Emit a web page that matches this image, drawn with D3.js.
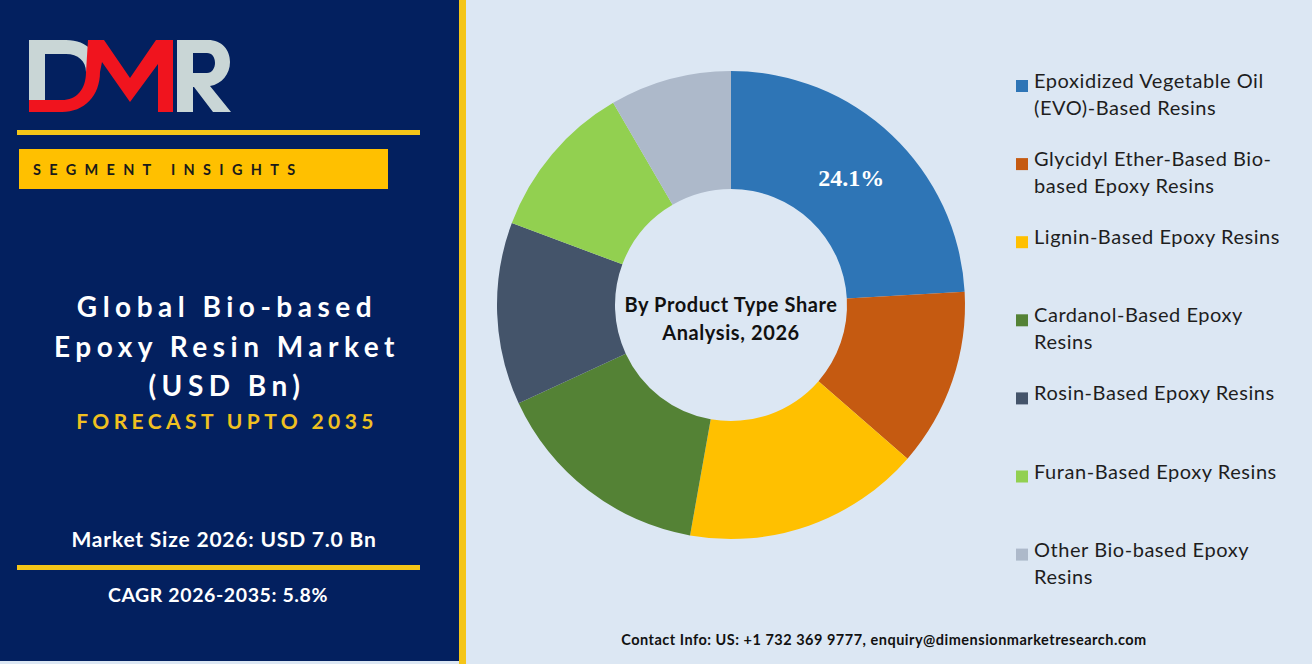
<!DOCTYPE html>
<html>
<head>
<meta charset="utf-8">
<script src="https://cdn.jsdelivr.net/npm/d3@7"></script>
<style>
  html, body { margin: 0; padding: 0; background: #dce7f3; }
  svg { display: block; }
</style>
</head>
<body>
<div id="chart"></div>
<script>
(function(){

    // chart data
    var categories = [
        "Epoxidized Vegetable Oil\n(EVO)-Based Resins",
        "Glycidyl Ether-Based Bio-\nbased Epoxy Resins",
        "Lignin-Based Epoxy Resins",
        "Cardanol-Based Epoxy\nResins",
        "Rosin-Based Epoxy Resins",
        "Furan-Based Epoxy Resins",
        "Other Bio-based Epoxy\nResins"
    ];
    var shares = [24.1, 12.3, 16.4, 15.3, 12.6, 10.9, 8.4];
    var palette = ["#2e75b6", "#c55a11", "#ffc000", "#548235", "#44546a", "#92d050", "#adb9ca"];

    var titleLines = ["Global Bio-based", "Epoxy Resin Market", "(USD Bn)"];
    var forecastText = "FORECAST UPTO 2035";
    var marketSize = "Market Size 2026: USD 7.0 Bn";
    var cagrText = "CAGR 2026-2035: 5.8%";
    var centerLines = ["By Product Type Share", "Analysis, 2026"];
    var contactText = "Contact Info: US: +1 732 369 9777, enquiry@dimensionmarketresearch.com";

    var W = 1312, H = 664;
    var donut = {cx: 731, cy: 305, inner: 116, outer: 234};
    var sideFont = "Lato, 'Open Sans', sans-serif";

    var svg = d3.select("#chart")
        .append("svg")
        .attr("width", W)
        .attr("height", H);

    /* 背景 */
    svg.append("rect").attr("width", W).attr("height", H).style("fill", "#dce7f3");
    svg.append("rect").attr("width", 459).attr("height", 661).style("fill", "#03205f");
    svg.append("rect").attr("x", 459).attr("width", 7).attr("height", H).style("fill", "#f5c518");

    /* logo */
    var logo = svg.append("g").attr("class", "logo");
    logo.append("path")
        .attr("d", "M29,40 H66 C88,40 100,55 100,72 L86,72 C86,61 78,54 66,54 H45 V100 H29 Z")
        .style("fill", "#c9d6d6");
    logo.append("path")
        .attr("d", "M29,100 H62 C76,100 86,90 86,72 L100,72 C100,96 84,112 62,112 H29 Z")
        .style("fill", "#f0141e");
    logo.append("path")
        .attr("d", "M86,72 L88,40 H104 L130,78 L156,40 H173 V112 H158 V64 L130,102 L102,62 L100,72 Z")
        .style("fill", "#f0141e");
    logo.append("path")
        .attr("fill-rule", "evenodd")
        .attr("d", "M177,40 H208 C222,40 230,50 230,62 C230,74 222,84 210,86 L231,112 H213 L194,87 H193 V112 H177 Z " +
                   "M193,53 V73 H207 C212,73 215,68 215,63 C215,57 212,53 207,53 Z")
        .style("fill", "#c9d6d6");

    /* 黄色分隔线 */
    svg.append("rect").attr("x", 17).attr("y", 130).attr("width", 403).attr("height", 5).style("fill", "#f5c518");
    svg.append("rect").attr("x", 19).attr("y", 149).attr("width", 369).attr("height", 40).style("fill", "#ffc000");
    svg.append("text")
        .attr("x", 33).attr("y", 175)
        .text("SEGMENT INSIGHTS")
        .style("font-family", sideFont)
        .style("font-weight", "bold")
        .style("font-size", "14.5px")
        .style("letter-spacing", "8.3px")
        .style("fill", "#1a1a1a");

    /* 标题 */
    svg.selectAll("text.title")
        .data(titleLines)
        .enter()
        .append("text")
        .attr("class", "title")
        .attr("x", 227)
        .attr("y", function(d, i){ return 317 + i * 39.5; })
        .attr("text-anchor", "middle")
        .text(function(d){ return d; })
        .style("font-family", sideFont)
        .style("font-weight", "bold")
        .style("font-size", "28px")
        .style("letter-spacing", "5.5px")
        .style("fill", "#ffffff");

    svg.append("text")
        .attr("x", 227).attr("y", 429)
        .attr("text-anchor", "middle")
        .text(forecastText)
        .style("font-family", sideFont)
        .style("font-weight", "bold")
        .style("font-size", "21px")
        .style("letter-spacing", "4.4px")
        .style("fill", "#f0c020");

    svg.append("text")
        .attr("x", 224).attr("y", 547)
        .attr("text-anchor", "middle")
        .text(marketSize)
        .style("font-family", sideFont)
        .style("font-weight", "bold")
        .style("font-size", "21px")
        .style("letter-spacing", "0.8px")
        .style("fill", "#ffffff");
    svg.append("rect").attr("x", 17).attr("y", 565).attr("width", 403).attr("height", 5).style("fill", "#f5c518");
    svg.append("text")
        .attr("x", 218).attr("y", 602)
        .attr("text-anchor", "middle")
        .text(cagrText)
        .style("font-family", sideFont)
        .style("font-weight", "bold")
        .style("font-size", "19.5px")
        .style("letter-spacing", "0.6px")
        .style("fill", "#ffffff");

    /* 环形图 */
    var pie = d3.pie().sort(null).value(function(d){ return d; });
    var arc = d3.arc().innerRadius(donut.inner).outerRadius(donut.outer);
    var color = d3.scaleOrdinal().domain(d3.range(shares.length)).range(palette);

    var g = svg.append("g")
        .attr("transform", "translate(" + donut.cx + "," + donut.cy + ")");

    var slices = pie(shares);
    g.selectAll("path")
        .data(slices)
        .enter()
        .append("path")
        .attr("d", arc)
        .style("fill", function(d, i){ return color(i); });

    g.selectAll("text.pct")
        .data(slices.filter(function(d){ return d.index === 0; }))
        .enter()
        .append("text")
        .attr("class", "pct")
        .attr("transform", function(d){
            var c = arc.centroid(d);
            return "translate(" + c[0] + "," + c[1] + ")";
        })
        .attr("dy", "0.35em")
        .attr("text-anchor", "middle")
        .text(function(d){ return d3.format(".1f")(d.data) + "%"; })
        .style("font-family", "'Liberation Serif', serif")
        .style("font-weight", "bold")
        .style("font-size", "24px")
        .style("fill", "#ffffff");

    g.selectAll("text.center")
        .data(centerLines)
        .enter()
        .append("text")
        .attr("class", "center")
        .attr("x", 0)
        .attr("y", function(d, i){ return 7 + i * 28; })
        .attr("text-anchor", "middle")
        .text(function(d){ return d; })
        .style("font-family", sideFont)
        .style("font-weight", "bold")
        .style("font-size", "20px")
        .style("letter-spacing", "0.6px")
        .style("fill", "#111111");

    /* 图例 */
    var legend = svg.selectAll("g.legend")
        .data(categories)
        .enter()
        .append("g")
        .attr("class", "legend")
        .attr("transform", function(d, i){ return "translate(1016," + (88 + i * 78.1) + ")"; });

    legend.append("rect")
        .attr("x", 0).attr("y", -8)
        .attr("width", 12).attr("height", 12)
        .style("fill", function(d, i){ return color(i); });

    legend.append("text")
        .attr("x", 18)
        .style("font-family", sideFont)
        .style("font-size", "20px")
        .style("letter-spacing", "0.55px")
        .style("fill", "#1e1e1e")
        .selectAll("tspan")
        .data(function(d){ return d.split("\n"); })
        .enter()
        .append("tspan")
        .attr("x", 18)
        .attr("y", function(d, i){ return i * 27; })
        .text(function(d){ return d; });

    svg.append("text")
        .attr("x", 884).attr("y", 645)
        .attr("text-anchor", "middle")
        .text(contactText)
        .style("font-family", sideFont)
        .style("font-weight", "bold")
        .style("font-size", "14.5px")
        .style("letter-spacing", "0.5px")
        .style("fill", "#111111");

})();
</script>
</body>
</html>
